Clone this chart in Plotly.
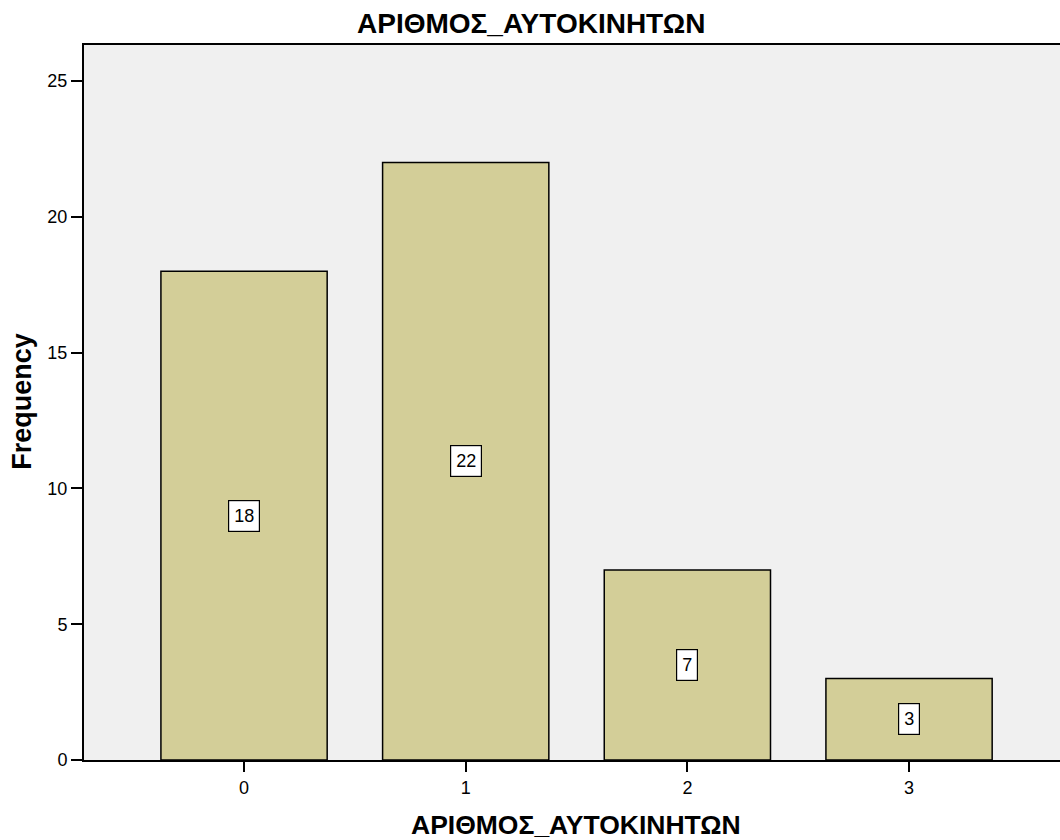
import plotly.graph_objects as go

categories = [0, 1, 2, 3]
frequencies = [18, 22, 7, 3]
tick_labels = ["0", "1", "2", "3"]
title_text = "ΑΡΙΘΜΟΣ_ΑΥΤΟΚΙΝΗΤΩΝ"

FONT = "Liberation Sans, Arial"

fig = go.Figure()
fig.add_trace(go.Bar(
    x=categories, y=frequencies, width=0.75,
    marker=dict(color="#d3ce98", line=dict(color="black", width=1.5)),
    hoverinfo="skip",
))

for c, v in zip(categories, frequencies):
    fig.add_annotation(
        x=c, y=v / 2, text=str(v), showarrow=False,
        font=dict(family=FONT, size=18, color="black"),
        bgcolor="white", bordercolor="black", borderwidth=1.2, borderpad=5,
    )

# titles as paper annotations for precise placement
fig.add_annotation(xref="paper", yref="paper", x=0.458, y=1, yshift=22, xanchor="center", yanchor="middle",
                   text=f"<b>{title_text}</b>", showarrow=False,
                   font=dict(family=FONT, size=28, color="black"))
fig.add_annotation(xref="paper", yref="paper", x=0.504, y=0, yshift=-65, xanchor="center", yanchor="middle",
                   text=f"<b>{title_text}</b>", showarrow=False,
                   font=dict(family=FONT, size=26.5, color="black"))
fig.add_annotation(xref="paper", yref="paper", x=0, y=0.501, xshift=-62, xanchor="center", yanchor="middle",
                   text="<b>Frequency</b>", textangle=-90, showarrow=False,
                   font=dict(family=FONT, size=27, color="black"))

fig.update_layout(
    width=1060, height=840,
    margin=dict(l=84, r=0, t=45, b=80),
    paper_bgcolor="white", plot_bgcolor="#f0f0f0",
    showlegend=False,
    font=dict(family=FONT, size=18, color="black"),
)
fig.update_xaxes(
    range=[-0.722, 3.681], tickmode="array", tickvals=categories, ticktext=tick_labels,
    showgrid=False, zeroline=False, showline=True, linecolor="black", linewidth=2, mirror=True,
    ticks="outside", ticklen=10, tickwidth=2, tickcolor="black",
    tickfont=dict(size=18),
)
fig.update_yaxes(
    range=[0, 26.33], tickvals=[0, 5, 10, 15, 20, 25],
    showgrid=False, zeroline=False, showline=True, linecolor="black", linewidth=2,
    ticks="outside", ticklen=11, tickwidth=2, tickcolor="black",
    tickfont=dict(size=18),
)

fig.write_html(
    "out.html",
    config={"displayModeBar": False},
    post_script="document.body.style.margin='0';document.body.style.overflow='hidden';",
)
